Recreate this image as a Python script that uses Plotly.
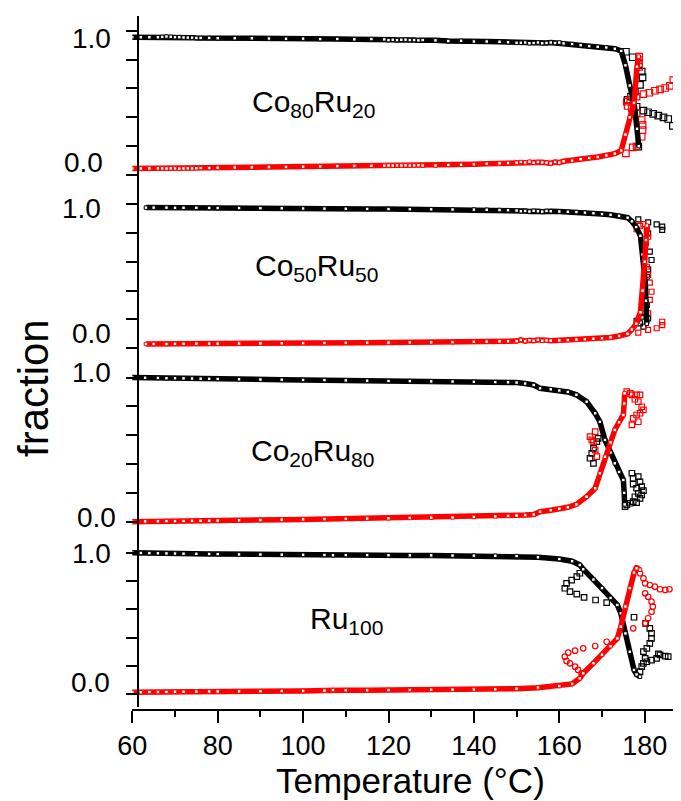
import plotly.graph_objects as go

# ---------------- data ----------------
# Panel 1: Co80Ru20
p1_T = [60, 62, 64, 66, 67, 68, 69, 70, 71, 72, 73, 74, 75, 76, 78, 80, 84, 88, 92, 96, 100, 104, 108, 112,
        116, 119, 120, 121, 122, 123, 124, 125, 126, 127, 128, 131, 134, 137, 140, 143, 146, 148, 150, 151,
        152, 153, 154, 155, 156, 157, 158, 159, 160, 161, 163, 165, 167, 169, 171, 173, 174.5, 175.5, 176.5,
        177.5, 178.2, 178.6]
p1_black = [0.955, 0.955, 0.955, 0.955, 0.957, 0.96, 0.958, 0.955, 0.955, 0.953, 0.952, 0.952, 0.95, 0.95,
            0.95, 0.948, 0.948, 0.948, 0.946, 0.944, 0.945, 0.942, 0.943, 0.94, 0.942, 0.94, 0.935, 0.937,
            0.935, 0.937, 0.938, 0.935, 0.935, 0.933, 0.935, 0.933, 0.928, 0.93, 0.925, 0.925, 0.923, 0.92,
            0.916, 0.916, 0.918, 0.913, 0.915, 0.918, 0.913, 0.915, 0.918, 0.915, 0.918, 0.912, 0.908, 0.9,
            0.893, 0.888, 0.884, 0.875, 0.86, 0.76, 0.62, 0.5, 0.32, 0.2]
p1_red = [0.045, 0.045, 0.046, 0.046, 0.046, 0.045, 0.047, 0.046, 0.044, 0.046, 0.047, 0.046, 0.047, 0.048,
          0.048, 0.05, 0.052, 0.053, 0.055, 0.056, 0.058, 0.06, 0.062, 0.063, 0.064, 0.065, 0.066, 0.065,
          0.067, 0.066, 0.067, 0.065, 0.066, 0.068, 0.065, 0.066, 0.07, 0.071, 0.075, 0.078, 0.08, 0.083,
          0.085, 0.09, 0.087, 0.092, 0.085, 0.09, 0.088, 0.085, 0.08, 0.09, 0.086, 0.095, 0.1, 0.11, 0.118,
          0.125, 0.135, 0.148, 0.17, 0.28, 0.4, 0.5, 0.75, 0.82]
p1_loopT_black = [175.6, 177.2, 178.7, 179.3, 179.5, 178.9, 177.7, 176.8, 176.0, 178.1, 179.7, 180.8, 182.0,
                  183.2, 184.4, 185.5, 186.6, 178.5]
p1_loop_black = [0.854, 0.816, 0.769, 0.716, 0.677, 0.624, 0.577, 0.543, 0.52, 0.473, 0.446, 0.435, 0.423,
                 0.411, 0.40, 0.388, 0.34, 0.196]
p1_loopT_red = [175.6, 177.2, 178.1, 179.3, 179.5, 179.5, 179.3, 178.1, 177.0, 176.0, 175.8, 176.6, 178.1,
                179.7, 181.1, 182.4, 183.6, 184.8, 185.9, 186.7, 178.7, 178.7, 178.7]
p1_loop_red = [0.15, 0.192, 0.196, 0.265, 0.312, 0.347, 0.381, 0.427, 0.462, 0.478, 0.508, 0.52, 0.543, 0.561,
               0.57, 0.584, 0.594, 0.603, 0.617, 0.658, 0.75, 0.797, 0.82]

# Panel 2: Co50Ru50
p2_T = [63.2, 65, 68, 70, 72, 75, 78, 80, 85, 90, 95, 100, 105, 110, 115, 120, 125, 130, 135, 140, 143, 146,
        148, 150, 151, 152, 153, 154, 155, 156, 157, 158, 160, 162, 164, 166, 168, 170, 172, 174, 176, 177,
        178, 179, 179.5, 180, 180.3, 180.5]
p2_black = [0.975, 0.975, 0.975, 0.974, 0.974, 0.974, 0.973, 0.972, 0.972, 0.971, 0.97, 0.969, 0.968, 0.967,
            0.966, 0.965, 0.964, 0.963, 0.962, 0.961, 0.96, 0.958, 0.957, 0.955, 0.95, 0.952, 0.948, 0.953,
            0.95, 0.947, 0.952, 0.95, 0.948, 0.946, 0.944, 0.94, 0.936, 0.93, 0.925, 0.918, 0.905, 0.88, 0.84,
            0.78, 0.65, 0.5, 0.33, 0.17]
p2_red = [0.03, 0.03, 0.03, 0.031, 0.031, 0.032, 0.032, 0.032, 0.033, 0.034, 0.035, 0.036, 0.037, 0.038,
          0.039, 0.04, 0.041, 0.042, 0.043, 0.045, 0.046, 0.048, 0.049, 0.05, 0.058, 0.05, 0.056, 0.052, 0.058,
          0.052, 0.055, 0.053, 0.055, 0.057, 0.06, 0.063, 0.066, 0.07, 0.075, 0.085, 0.1, 0.13, 0.17, 0.25,
          0.4, 0.6, 0.75, 0.85]
p2_loopT_black = [178.5, 180.8, 182.8, 184.1, 184.1, 180.8, 181.2, 181.6, 180.8, 180.5, 180.1, 179.7, 180.5,
                  180.1, 180.8, 178.1, 178.9, 179.7, 179.3]
p2_loop_black = [0.894, 0.873, 0.859, 0.843, 0.82, 0.797, 0.67, 0.612, 0.547, 0.496, 0.427, 0.362, 0.3, 0.243,
                 0.208, 0.191, 0.173, 0.15, 0.219]
p2_loopT_red = [178.1, 178.9, 179.7, 180.5, 180.8, 180.3, 179.7, 180.5, 180.8, 181.2, 181.6, 181.2, 180.8,
                184.1, 184.1, 182.8, 180.8, 178.5]
p2_loop_red = [0.825, 0.848, 0.861, 0.825, 0.773, 0.728, 0.635, 0.565, 0.508, 0.455, 0.392, 0.335, 0.243,
               0.184, 0.161, 0.139, 0.127, 0.108]

# Panel 3: Co20Ru80
p3_T = [60, 63, 66, 68, 70, 72, 74, 76, 78, 80, 85, 90, 95, 100, 105, 110, 115, 120, 125, 130, 135, 140, 145,
        148, 150, 152, 154, 155.5, 158, 160, 162, 164, 166.4, 168.4, 169.5, 170.7, 172, 173, 174, 175, 175.2,
        175.3]
p3_black = [1.0, 0.998, 0.997, 0.995, 0.995, 0.994, 0.993, 0.992, 0.991, 0.99, 0.988, 0.986, 0.985, 0.983,
            0.982, 0.98, 0.978, 0.976, 0.975, 0.973, 0.972, 0.97, 0.968, 0.967, 0.965, 0.958, 0.948, 0.925,
            0.918, 0.91, 0.9, 0.88, 0.832, 0.752, 0.693, 0.567, 0.48, 0.405, 0.345, 0.289, 0.2, 0.12]
p3_red = [0.0, 0.002, 0.003, 0.004, 0.004, 0.005, 0.006, 0.006, 0.007, 0.008, 0.01, 0.012, 0.014, 0.016,
          0.018, 0.02, 0.022, 0.024, 0.026, 0.028, 0.03, 0.033, 0.037, 0.04, 0.042, 0.046, 0.05, 0.069, 0.08,
          0.09, 0.1, 0.12, 0.173, 0.232, 0.336, 0.45, 0.55, 0.636, 0.69, 0.74, 0.82, 0.89]
p3_loopT_black = [167.2, 167.6, 168.0, 168.8, 169.1, 168.0, 177.0, 177.3, 178.5, 178.9, 177.3, 179.3, 178.1,
                  179.7, 178.5, 177.7, 178.9, 177.3, 176.6, 175.8, 178.1, 179.3, 175.4]
p3_loop_black = [0.44, 0.474, 0.509, 0.555, 0.578, 0.405, 0.336, 0.301, 0.312, 0.277, 0.261, 0.243, 0.232,
                 0.215, 0.197, 0.173, 0.162, 0.139, 0.128, 0.116, 0.132, 0.185, 0.104]
p3_loopT_red = [175.8, 177.0, 178.1, 178.9, 176.6, 177.7, 178.5, 179.3, 179.7, 178.9, 178.1, 177.3, 177.0,
                178.5, 167.2, 168.4, 168.0, 168.4, 168.8, 167.6]
p3_loop_red = [0.902, 0.879, 0.879, 0.879, 0.89, 0.849, 0.832, 0.797, 0.775, 0.752, 0.74, 0.717, 0.671, 0.693,
               0.59, 0.624, 0.555, 0.497, 0.451, 0.567]

# Panel 4: Ru100
p4_T = [60, 62, 64, 66, 68, 70, 72, 75, 78, 80, 85, 90, 95, 100, 105, 107, 110, 115, 120, 125, 130, 135, 140,
        145, 150, 155, 160, 163, 164.8, 165.6, 168, 170, 172, 173.6, 174.4, 175.5, 176.5, 177.5, 178.1, 178.9]
p4_black = [1.0, 0.998, 0.997, 0.996, 0.995, 0.994, 0.993, 0.992, 0.991, 0.99, 0.988, 0.987, 0.986, 0.985,
            0.984, 0.982, 0.983, 0.983, 0.982, 0.981, 0.981, 0.98, 0.979, 0.978, 0.976, 0.968, 0.955, 0.94,
            0.913, 0.883, 0.81, 0.75, 0.68, 0.631, 0.572, 0.43, 0.3, 0.172, 0.14, 0.124]
p4_red = [0.015, 0.015, 0.016, 0.016, 0.017, 0.018, 0.018, 0.019, 0.02, 0.02, 0.021, 0.022, 0.023, 0.024,
          0.026, 0.03, 0.029, 0.029, 0.03, 0.031, 0.032, 0.033, 0.034, 0.035, 0.04, 0.047, 0.058, 0.073, 0.113,
          0.148, 0.22, 0.28, 0.34, 0.395, 0.477, 0.62, 0.75, 0.86, 0.89, 0.88]
p4_loopT_black = [164.8, 164.1, 162.9, 161.7, 161.3, 162.5, 164.1, 165.8, 168.5, 171.1, 177.5, 180.2, 181.2,
                  181.6, 181.6, 181.2, 180.5, 179.7, 180.1, 179.7, 179.3, 178.9, 180.5, 181.6, 182.8, 183.6,
                  184.8, 185.5, 183.2]
p4_loop_black = [0.855, 0.831, 0.807, 0.784, 0.749, 0.725, 0.708, 0.685, 0.666, 0.647, 0.544, 0.501, 0.466,
                 0.431, 0.395, 0.36, 0.325, 0.301, 0.254, 0.219, 0.195, 0.16, 0.23, 0.242, 0.254, 0.278, 0.27,
                 0.266, 0.285]
p4_loopT_red = [178.1, 178.9, 179.7, 180.1, 181.2, 182.4, 183.6, 184.8, 185.8, 180.1, 180.8, 181.6, 181.9,
                181.6, 180.8, 180.1, 177.3, 171.1, 168.4, 165.6, 163.7, 162.1, 161.3, 161.7, 162.5, 163.7,
                164.4, 165.2]
p4_loop_red = [0.89, 0.855, 0.819, 0.784, 0.772, 0.76, 0.742, 0.737, 0.742, 0.713, 0.689, 0.654, 0.619,
               0.583, 0.537, 0.501, 0.466, 0.371, 0.341, 0.325, 0.308, 0.294, 0.266, 0.235, 0.219, 0.195,
               0.172, 0.148]

panel_labels = ["Co<sub>80</sub>Ru<sub>20</sub>", "Co<sub>50</sub>Ru<sub>50</sub>",
                "Co<sub>20</sub>Ru<sub>80</sub>", "Ru<sub>100</sub>"]
y_tick_vals = [0, 0.2, 0.4, 0.6, 0.8, 1.0]
x_tick_vals = [60, 80, 100, 120, 140, 160, 180]
x_title = "Temperature (°C)"
y_title = "fraction"

# ---------------- layout geometry (window pixels) ----------------
OFF = 8                 # default page body margin
W, H = 681 - OFF, 801 - OFF
FONT = "Liberation Sans, Arial, sans-serif"
X_LEFT, X_RIGHT = 132.3, 681.0
X_MIN, PX_PER_DEG = 60.0, 4.27
X_MAX = X_MIN + (X_RIGHT - X_LEFT) / PX_PER_DEG
Y_AXIS_X = 138.0
TOP_LINE = 15.7
BOTTOM_AXIS = 710.0

# (pixel of 1.0, pixel of 0.0, domain top, domain bottom)
panels_geo = [(30.7, 175.0, 15.7, 189.5),
              (204.0, 348.3, 189.5, 363.0),
              (377.5, 521.7, 363.0, 537.0),
              (552.7, 694.3, 537.0, 706.7)]


def fx(px):
    return (px - OFF) / W


def fy(py):
    return 1 - (py - OFF) / H


panels = [
    (p1_T, p1_black, p1_red, p1_loopT_black, p1_loop_black, p1_loopT_red, p1_loop_red, "square-open", 6.5),
    (p2_T, p2_black, p2_red, p2_loopT_black, p2_loop_black, p2_loopT_red, p2_loop_red, "square-open", 5),
    (p3_T, p3_black, p3_red, p3_loopT_black, p3_loop_black, p3_loopT_red, p3_loop_red, "square-open", 5.5),
    (p4_T, p4_black, p4_red, p4_loopT_black, p4_loop_black, p4_loopT_red, p4_loop_red, "circle-open", 5.5),
]

fig = go.Figure()
layout = dict(
    template="none",
    width=W, height=H, margin=dict(l=0, r=0, t=0, b=0, autoexpand=False),
    paper_bgcolor="white", plot_bgcolor="rgba(0,0,0,0)", showlegend=False,
    font=dict(family=FONT, color="black"),
)

layout["xaxis"] = dict(
    domain=[fx(X_LEFT), fx(X_RIGHT)], range=[X_MIN, X_MAX], anchor="free", position=fy(BOTTOM_AXIS),
    automargin=False,
    showline=True, linecolor="black", linewidth=2, showgrid=False, zeroline=False,
    ticks="outside", ticklen=12, tickwidth=2, tickcolor="black",
    tickvals=x_tick_vals, tickfont=dict(size=27, family=FONT, color="black"),
    minor=dict(ticks="outside", ticklen=6, tickwidth=2, tickcolor="black", dtick=10, tick0=60, showgrid=False),
)
layout["xaxis2"] = dict(
    overlaying="x", side="top", anchor="free", position=fy(TOP_LINE), range=[X_MIN, X_MAX],
    automargin=False,
    showline=True, linecolor="black", linewidth=2, showgrid=False, zeroline=False,
    ticks="inside", ticklen=4, tickwidth=1.5, tickcolor="black", dtick=10, tick0=60, showticklabels=False,
)

annotations = []
label_pos = [((113, 39), (105, 163)), ((103, 208), (113, 333)),
             ((113, 372), (118, 517)), ((113, 553), (112, 682))]
name_pos = [(250, 104), (253, 268), (249, 452), (308, 620)]

for k, (geo, pdata) in enumerate(zip(panels_geo, panels)):
    p1, p0, top, bot = geo
    s = p0 - p1
    rng = [(p0 - bot) / s, (p0 - top) / s]
    yl = "yaxis" if k == 0 else f"yaxis{k + 1}"
    yr = f"yaxis{k + 5}"
    ref = "y" if k == 0 else f"y{k + 1}"
    layout[yl] = dict(
        domain=[fy(bot), fy(top)], range=rng, anchor="free", position=fx(Y_AXIS_X), automargin=False,
        showline=True, linecolor="black", linewidth=2, showgrid=False, zeroline=False,
        ticks="outside", ticklen=11, tickwidth=2, tickcolor="black",
        tickvals=y_tick_vals, showticklabels=False,
    )
    layout[yr] = dict(
        overlaying=ref, side="right", anchor="free", position=fx(X_RIGHT), range=rng, automargin=False,
        showline=False, showgrid=False, zeroline=False,
        ticks="inside", ticklen=8, tickwidth=2, tickcolor="black",
        tickvals=y_tick_vals, showticklabels=False,
    )
    T, fb, fr, lTb, lb, lTr, lr, sym, msz = pdata
    fig.add_trace(go.Scatter(x=lTb, y=lb, mode="markers", xaxis="x", yaxis=ref, cliponaxis=True,
                             marker=dict(symbol="square-open", size=msz, color="black", line=dict(width=1.2))))
    fig.add_trace(go.Scatter(x=lTr, y=lr, mode="markers", xaxis="x", yaxis=ref, cliponaxis=True,
                             marker=dict(symbol=sym, size=msz, color="red", line=dict(width=1.2))))
    for vals, col in ((fb, "black"), (fr, "red")):
        fig.add_trace(go.Scatter(x=T, y=vals, mode="lines+markers", xaxis="x", yaxis=ref, cliponaxis=True,
                                 line=dict(color=col, width=5.5),
                                 marker=dict(symbol="square", size=3.5, color="white",
                                             line=dict(color=col, width=1))))
    (x1, y1), (x0, y0) = label_pos[k]
    annotations.append(dict(text="1.0", x=fx(x1), y=fy(y1), xref="paper", yref="paper",
                            xanchor="right", yanchor="middle", showarrow=False,
                            font=dict(size=28, family=FONT, color="black")))
    annotations.append(dict(text="0.0", x=fx(x0), y=fy(y0), xref="paper", yref="paper",
                            xanchor="right", yanchor="middle", showarrow=False,
                            font=dict(size=28, family=FONT, color="black")))
    nx, ny = name_pos[k]
    annotations.append(dict(text=panel_labels[k], x=fx(nx), y=fy(ny), xref="paper", yref="paper",
                            xanchor="left", yanchor="middle", showarrow=False,
                            font=dict(size=30, family=FONT, color="black")))

annotations.append(dict(text=x_title, x=fx(410), y=fy(780), xref="paper", yref="paper",
                        xanchor="center", yanchor="middle", showarrow=False,
                        font=dict(size=35, family=FONT, color="black")))
annotations.append(dict(text=y_title, x=fx(33), y=fy(388), xref="paper", yref="paper",
                        xanchor="center", yanchor="middle", showarrow=False, textangle=-90,
                        font=dict(size=42, family=FONT, color="black")))

layout["annotations"] = annotations
fig.update_layout(**layout)
fig.write_html("out.html")
